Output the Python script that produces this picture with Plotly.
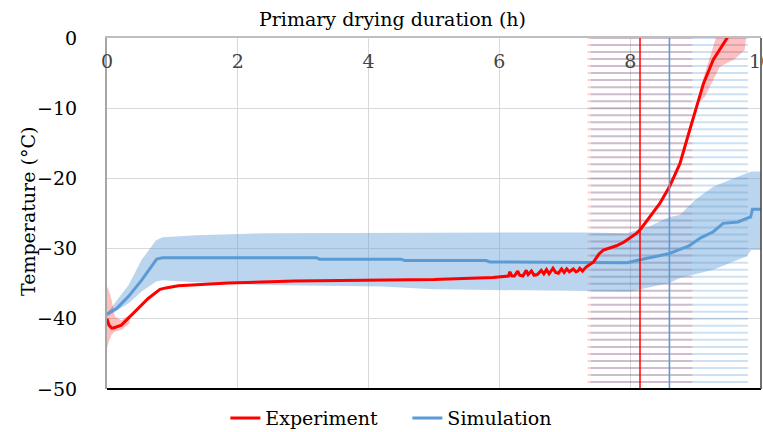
import plotly.graph_objects as go

# ---------------- data ----------------
sim_t = [0, 0.15, 0.33, 0.53, 0.76, 0.85, 1.5, 3.2, 3.25, 4.5, 4.55, 5.8, 5.85, 7.0, 7.95,
         8.15, 8.45, 8.6, 8.76, 8.9, 9.07, 9.27, 9.42, 9.55, 9.65, 9.78, 9.84, 9.87, 10.0]
sim_T = [-39.3, -38.5, -36.8, -34.5, -31.5, -31.3, -31.3, -31.3, -31.5, -31.5, -31.7, -31.7, -31.9, -32.0, -32.0,
         -31.6, -31.0, -30.7, -30.1, -29.6, -28.5, -27.6, -26.4, -26.3, -26.2, -25.7, -25.5, -24.4, -24.4]

sim_hi_t = [0, 0.33, 0.53, 0.75, 0.85, 1.37, 2.4, 7.3, 7.95, 8.15, 8.3, 8.6, 8.76, 9.0, 9.27, 9.5, 9.78, 9.85, 10]
sim_hi_T = [-39.2, -35.2, -31.6, -28.8, -28.4, -28.1, -27.8, -27.7, -27.8, -27.2, -26.8, -25.5, -25.2, -23.0, -21.2, -20.3, -19.3, -19.0, -19.0]
sim_lo_t = [0, 0.33, 0.53, 0.75, 0.85, 1.37, 2.4, 4.2, 5.0, 6.9, 7.5, 8.0, 8.6, 8.76, 9.27, 9.78, 9.85, 10]
sim_lo_T = [-39.7, -37.8, -36.1, -34.7, -34.5, -34.8, -35.2, -35.4, -35.8, -36.0, -36.1, -36.1, -34.9, -34.2, -33.0, -31.1, -30.2, -30.2]

exp_t = [0, 0.03, 0.07, 0.1, 0.22, 0.43, 0.63, 0.81, 0.9, 1.09, 1.5, 1.86, 2.87, 4.17, 5.0, 5.9,
         6.10, 6.14, 6.16, 6.19, 6.23, 6.28, 6.31, 6.36, 6.41, 6.44, 6.49, 6.53, 6.58, 6.64, 6.68,
         6.72, 6.76, 6.82, 6.86, 6.90, 6.95, 6.99, 7.03, 7.07, 7.13, 7.17, 7.20, 7.23, 7.27, 7.33,
         7.44, 7.52, 7.59, 7.7, 7.79, 7.9, 8.0, 8.1, 8.17, 8.3, 8.45, 8.6, 8.76, 8.91, 9.01, 9.12,
         9.27, 9.38, 9.47, 9.55]
exp_T = [-40.0, -40.9, -41.3, -41.3, -40.9, -39.0, -37.1, -35.8, -35.6, -35.3, -35.1, -34.9, -34.6, -34.5, -34.4, -34.1,
         -34.0, -33.9, -33.3, -33.9, -33.9, -33.2, -33.8, -33.9, -33.1, -33.7, -33.2, -33.8, -33.7, -33.1, -33.6,
         -33.0, -33.6, -32.8, -33.4, -33.5, -32.9, -33.4, -32.9, -33.3, -32.9, -33.3, -33.2, -32.8, -33.2, -32.6,
         -31.9, -30.8, -30.2, -29.9, -29.6, -29.1, -28.5, -27.8, -27.1, -25.5, -23.6, -21.2, -17.9, -13.1, -9.8, -6.5,
         -3.1, -1.4, 0.0, 1.0]

# experiment uncertainty at start (temperature band)
exp_start_t = [0, 0.03, 0.07, 0.12, 0.22, 0.35]
exp_start_hi = [-35.4, -36.0, -37.3, -39.7, -40.2, -39.4]
exp_start_lo = [-44.2, -43.2, -42.3, -41.8, -41.6, -40.6]
# experiment uncertainty at end (outline of band)
exp_end_t = [9.05, 9.08, 9.19, 9.31, 9.40, 9.78, 9.77, 9.75, 9.60, 9.37, 9.14, 9.07]
exp_end_T = [-9.0, -6.9, -3.6, 0.0, 1.0, 1.0, 0.0, -1.7, -3.0, -4.1, -8.4, -9.0]

# end-of-primary-drying markers and their time uncertainty
end_levels = list(range(-50, 1))
exp_end_time = 8.15
exp_end_err = 0.8
sim_end_time = 8.60
sim_end_err = 1.2

x_ticks = [0, 2, 4, 6, 8, 10]
y_ticks = [0, -10, -20, -30, -40, -50]

RED = "#FF0000"
BLUE = "#5B9BD5"
FONT = "DejaVu Serif"
FS = 19

fig = go.Figure()

# hatch (horizontal error bars)
fig.add_trace(go.Scatter(
    x=[exp_end_time] * len(end_levels), y=end_levels, mode="markers",
    marker=dict(size=1, color="rgba(0,0,0,0)"), showlegend=False, hoverinfo="skip",
    error_x=dict(type="constant", value=exp_end_err, thickness=2, width=0, color="rgba(255,0,0,0.2)")))
fig.add_trace(go.Scatter(
    x=[sim_end_time] * len(end_levels), y=end_levels, mode="markers",
    marker=dict(size=1, color="rgba(0,0,0,0)"), showlegend=False, hoverinfo="skip",
    error_x=dict(type="constant", value=sim_end_err, thickness=2, width=0, color="rgba(91,155,213,0.3)")))

# simulation band
fig.add_trace(go.Scatter(x=sim_hi_t, y=sim_hi_T, mode="lines", line=dict(width=0, color=BLUE),
                         showlegend=False, hoverinfo="skip"))
fig.add_trace(go.Scatter(x=sim_lo_t, y=sim_lo_T, mode="lines", line=dict(width=0, color=BLUE),
                         fill="tonexty", fillcolor="rgba(91,155,213,0.42)", showlegend=False, hoverinfo="skip"))

# experiment bands
fig.add_trace(go.Scatter(x=exp_start_t + exp_start_t[::-1], y=exp_start_hi + exp_start_lo[::-1],
                         mode="lines", line=dict(width=0), fill="toself",
                         fillcolor="rgba(255,0,0,0.25)", showlegend=False, hoverinfo="skip"))
fig.add_trace(go.Scatter(x=exp_end_t, y=exp_end_T, mode="lines", line=dict(width=0), fill="toself",
                         fillcolor="rgba(255,0,0,0.25)", showlegend=False, hoverinfo="skip"))

# main lines
fig.add_trace(go.Scatter(x=sim_t, y=sim_T, mode="lines", name="Simulation",
                         line=dict(color=BLUE, width=3)))
fig.add_trace(go.Scatter(x=exp_t, y=exp_T, mode="lines", name="Experiment",
                         line=dict(color=RED, width=3)))

# vertical end lines
fig.add_trace(go.Scatter(x=[exp_end_time] * len(end_levels), y=end_levels, mode="lines",
                         line=dict(color=RED, width=1.5), showlegend=False, hoverinfo="skip"))
fig.add_trace(go.Scatter(x=[sim_end_time] * len(end_levels), y=end_levels, mode="lines",
                         line=dict(color=BLUE, width=1.6), showlegend=False, hoverinfo="skip"))

fig.update_layout(
    width=763, height=432,
    margin=dict(l=107, r=2, t=38, b=43, autoexpand=False),
    paper_bgcolor="white", plot_bgcolor="white",
    font=dict(family=FONT, size=FS, color="black"),
    legend=dict(orientation="h", x=0.181, xanchor="left", yref="container", y=0.032, yanchor="middle",
                font=dict(size=FS), traceorder="reversed", itemwidth=30,
                entrywidth=137, entrywidthmode="pixels"),
    showlegend=True,
)
fig.update_xaxes(range=[0, 10], side="top", tickvals=x_ticks, ticktext=[str(v) for v in x_ticks],
                 ticklabelposition="inside", ticklabelstandoff=18, ticklabeloverflow="allow",
                 automargin=False,
                 showline=True, linecolor="#BFBFBF", linewidth=2, showgrid=True, gridcolor="#D9D9D9",
                 gridwidth=1, zeroline=False, ticks="")
fig.update_yaxes(range=[-50, 0], tickvals=y_ticks, ticklabelstandoff=24, automargin=False,
                 showline=True, linecolor="#A6A6A6", linewidth=2, showgrid=True, gridcolor="#D9D9D9",
                 gridwidth=1, zeroline=False, ticks="")

fig.add_shape(type="line", xref="paper", yref="paper", x0=0, x1=1, y0=0, y1=0,
              line=dict(color="black", width=2))
fig.add_shape(type="line", xref="paper", yref="paper", x0=1, x1=1, y0=0, y1=1,
              line=dict(color="#404040", width=1.5))

fig.add_annotation(text="Primary drying duration (h)", xref="paper", yref="paper", x=0.437, y=1,
                   xanchor="center", yanchor="middle", yshift=19, showarrow=False, font=dict(size=FS))
fig.add_annotation(text="Temperature (°C)", xref="paper", yref="paper", x=-0.1208, y=0.507,
                   xanchor="center", yanchor="middle", textangle=-90, showarrow=False, font=dict(size=FS))

fig.write_html("out.html")
